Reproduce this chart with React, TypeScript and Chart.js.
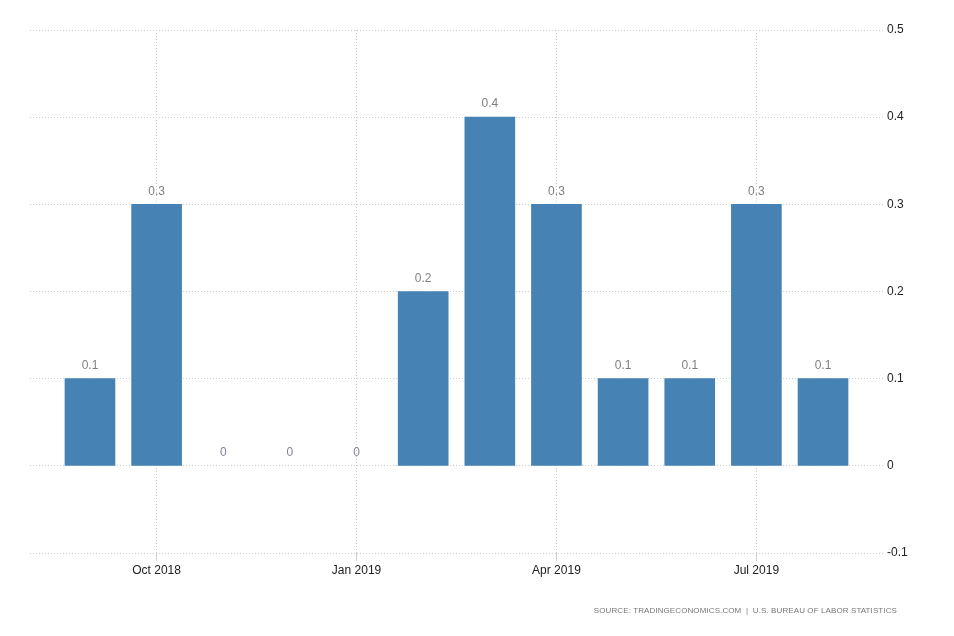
import React, { useEffect, useRef } from "react";
import { Chart, registerables } from "chart.js";

Chart.register(...registerables);

const months = ["Sep 2018", "Oct 2018", "Nov 2018", "Dec 2018", "Jan 2019", "Feb 2019", "Mar 2019", "Apr 2019", "May 2019", "Jun 2019", "Jul 2019", "Aug 2019"];
const values = [0.1, 0.3, 0, 0, 0, 0.2, 0.4, 0.3, 0.1, 0.1, 0.3, 0.1];
const xTickIndices = [1, 4, 7, 10];
const yTicks = [-0.1, 0, 0.1, 0.2, 0.3, 0.4, 0.5];
const sourceText = "SOURCE: TRADINGECONOMICS.COM  |  U.S. BUREAU OF LABOR STATISTICS";

const FONT = "'Liberation Sans', Arial, sans-serif";

const valueLabels = {
  id: "valueLabels",
  afterDatasetsDraw(chart: any) {
    const { ctx } = chart;
    const meta = chart.getDatasetMeta(0);
    ctx.save();
    ctx.font = `12px ${FONT}`;
    ctx.fillStyle = "#7f7f7f";
    ctx.textAlign = "center";
    ctx.textBaseline = "middle";
    meta.data.forEach((el: any, i: number) => {
      const v = values[i];
      ctx.fillStyle = v === 0 ? "#857f99" : "#7f7f7f";
      ctx.fillText(String(v), el.x, el.y - 13);
    });
    ctx.restore();
  },
};

export default function App() {
  const ref = useRef<HTMLCanvasElement | null>(null);
  useEffect(() => {
    if (!ref.current) return;
    const chart = new Chart(ref.current, {
      type: "bar",
      data: {
        datasets: [
          {
            data: values.map((v, i) => ({ x: i, y: v })),
            backgroundColor: values.map((v) => (v === 0 ? "rgba(0,0,0,0)" : "#4682b4")),
            barThickness: 50,
          },
        ],
      },
      options: {
        animation: false,
        responsive: false,
        maintainAspectRatio: false,
        layout: { padding: { left: 30, top: 30, right: 0, bottom: 0 } },
        plugins: { legend: { display: false }, tooltip: { enabled: false } },
        scales: {
          x: {
            type: "linear",
            min: -0.9,
            max: 11.9,
            offset: false,
            afterBuildTicks: (scale: any) => {
              scale.ticks = xTickIndices.map((v) => ({ value: v }));
            },
            afterFit: (scale: any) => {
              scale.height = 636 - 553;
            },
            ticks: {
              callback: (v: any) => months[Number(v)] ?? "",
              color: "#222",
              font: { family: FONT, size: 12 },
              padding: 2,
              maxRotation: 0,
              autoSkip: false,
            },
            grid: {
              offset: false,
              color: "#cccccc",
              borderDash: [1, 2],
              tickLength: 8,
              tickColor: "#cccccc",
              tickBorderDash: [],
              drawTicks: true,
            } as any,
            border: { display: false, dash: [1, 2] },
          },
          y: {
            position: "right",
            min: -0.1,
            max: 0.5,
            afterBuildTicks: (scale: any) => {
              scale.ticks = yTicks.map((v) => ({ value: v }));
            },
            afterFit: (scale: any) => {
              scale.width = 954 - 883;
            },
            ticks: {
              callback: (v: any) => String(Math.round(Number(v) * 10) / 10),
              color: "#222",
              font: { family: FONT, size: 12 },
              padding: 4,
            },
            grid: {
              color: "#cccccc",
              borderDash: [1, 2],
              drawTicks: false,
            } as any,
            border: { display: false, dash: [1, 2] },
          },
        },
      },
      plugins: [valueLabels],
    });
    return () => chart.destroy();
  }, []);
  return (
    <div style={{ position: "fixed", left: 0, top: 0, width: 954, height: 636, background: "#fff" }}>
      <canvas ref={ref} width={954} height={636} style={{ width: 954, height: 636, display: "block" }} />
      <div
        style={{
          position: "absolute",
          right: 57,
          top: 606,
          fontFamily: FONT,
          fontSize: 8,
          color: "#777",
          whiteSpace: "pre",
          letterSpacing: 0.1,
        }}
      >
        {sourceText}
      </div>
    </div>
  );
}
